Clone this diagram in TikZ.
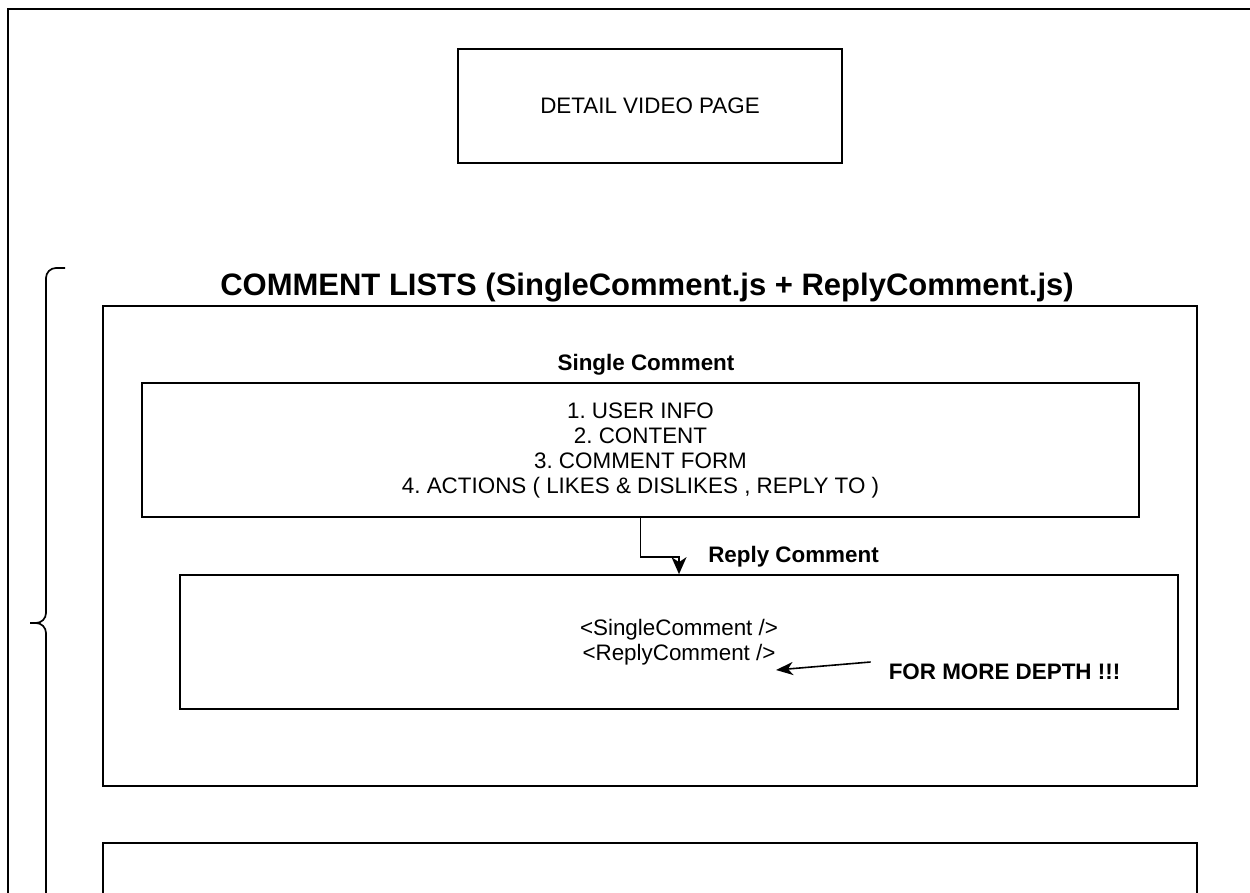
\documentclass[tikz,border=0pt]{standalone}
\usepackage{fontspec}
\setmainfont{Liberation Sans}
\usetikzlibrary{arrows.meta}
\frenchspacing

\tikzset{
  pagebox/.style={draw=black, rectangle, inner sep=0pt},
  boxtext/.style={align=center, font=\fontsize{22.4}{25}\selectfont},
  boldlabel/.style={align=center, font=\fontsize{22.4}{25}\selectfont\bfseries},
  replyarrow/.style={-{Stealth[length=17pt,width=15pt,inset=5pt]}},
}

\begin{document}
\begin{tikzpicture}[x=1pt, y=-1pt, line width=1.7pt]
\useasboundingbox (0,0) rectangle (1250,893);
\clip (0,0) rectangle (1250,893);

% outer frame, runs past the page
\draw (8,9) rectangle (1280,930);

\node[pagebox, minimum width=384pt, minimum height=114pt, boxtext] (detail) at (650,106) {DETAIL VIDEO PAGE};

% brace in front of the comment lists
\draw[rounded corners=10pt] (65,268) -- (46,268) -- (46,623) -- (30,623);
\draw[rounded corners=10pt] (30,623) -- (46,623) -- (46,960);

\node[font=\fontsize{31}{35}\selectfont\bfseries] (title) at (647,288) {COMMENT LISTS (SingleComment.js + ReplyComment.js)};
\node[pagebox, minimum width=1094pt, minimum height=480pt] (lists) at (650,546) {};

\node[boldlabel] (singlelabel) at (646,365) {Single Comment};
\node[pagebox, minimum width=997pt, minimum height=134pt, boxtext] (single) at (640.5,450) {1. USER INFO\\2. CONTENT\\3. COMMENT FORM\\4. ACTIONS ( LIKES \& DISLIKES , REPLY TO )};

\node[boldlabel] (replylabel) at (793.5,557) {Reply Comment};
\node[pagebox, minimum width=998pt, minimum height=134pt] (reply) at (679,642) {};
\node[boxtext] (sc) at (679,630) {<SingleComment />};
\node[boxtext] (rc) at (679,655) {<ReplyComment />};

\draw[replyarrow] (single.south) -- ++(0,39) -| (reply.north);

\node[boldlabel] (more) at (1004.5,672) {FOR MORE DEPTH !!!};
\coordinate (deeptip) at (776,670);
\draw[line width=1.6pt, -{Stealth[length=17pt,width=13pt,inset=5pt]}] ([xshift=-14pt,yshift=10pt]more.west) -- (deeptip);

% next box, cut by the page
\draw (103,843) rectangle (1197,960);
\end{tikzpicture}
\end{document}
